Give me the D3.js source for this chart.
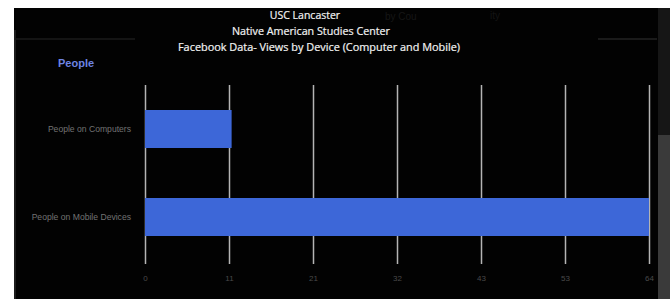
<!DOCTYPE html>
<html>
<head>
<meta charset="utf-8">
<script src="https://cdn.jsdelivr.net/npm/d3@7"></script>
<style>
  html, body { margin: 0; padding: 0; background: #fff; }
  svg { display: block; }
</style>
</head>
<body>
<div id="chart"></div>
<script>
// Data
const titleLines = ["USC Lancaster", "Native American Studies Center", "Facebook Data- Views by Device (Computer and Mobile)"];
const groupLabel = "People";
const categories = ["People on Computers", "People on Mobile Devices"];
const values = [11, 64];
const xMax = 64;
const tickCount = 6;

const W = 670, H = 299;

const svg = d3.select("#chart")
    .append("svg")
    .attr("width", W)
    .attr("height", H);

// dark video frame
svg.append("rect")
    .attr("x", 14).attr("y", 8)
    .attr("width", 644).attr("height", H - 8)
    .attr("fill", "#020202");

// left edge shade + scrollbar on the right
svg.append("rect").attr("x", 14).attr("y", 30).attr("width", 2).attr("height", H - 30).attr("fill", "#1c1c1c");
svg.append("rect").attr("x", 658).attr("y", 8).attr("width", 12).attr("height", 127).attr("fill", "#161616");
svg.append("rect").attr("x", 658).attr("y", 135).attr("width", 12).attr("height", H - 135).attr("fill", "#3a3a3a");

// faint header line behind title
svg.append("line").attr("x1", 16).attr("x2", 135).attr("y1", 39).attr("y2", 39)
    .attr("stroke", "#262626").attr("stroke-width", 1);
svg.append("line").attr("x1", 598).attr("x2", 657).attr("y1", 39).attr("y2", 39)
    .attr("stroke", "#333").attr("stroke-width", 1);

// ghost text from the underlying video
svg.append("text").attr("x", 385).attr("y", 20).attr("font-family", "Liberation Sans, Arial, sans-serif")
    .attr("font-size", 10).attr("fill", "#161616").text("by Cou");
svg.append("text").attr("x", 490).attr("y", 19).attr("font-family", "Liberation Sans, Arial, sans-serif")
    .attr("font-size", 10).attr("fill", "#141414").text("ity");

// Title
const titleX = [305, 311, 319];
const titleW = [70, 158, 282];
svg.append("g")
    .selectAll("text")
    .data(titleLines)
    .join("text")
    .attr("x", (d, i) => titleX[i])
    .attr("y", (d, i) => 15 + i * 16)
    .attr("dy", "0.35em")
    .attr("text-anchor", "middle")
    .attr("font-family", "Open Sans, Noto Sans, sans-serif")
    .attr("font-size", 10.5)
    .attr("fill", "#f2f2f2")
    .attr("stroke", "#f2f2f2")
    .attr("stroke-width", 0.2)
    .text(d => d)
    .each(function(d, i) {
        const len = this.getComputedTextLength();
        if (Math.abs(len - titleW[i]) > 2) {
            d3.select(this).attr("textLength", titleW[i]).attr("lengthAdjust", "spacingAndGlyphs");
        }
    });

// group label
svg.append("text")
    .attr("x", 58).attr("y", 63)
    .attr("dy", "0.35em")
    .attr("font-family", "Liberation Sans, Arial, sans-serif")
    .attr("font-weight", "bold")
    .attr("font-size", 11)
    .attr("fill", "#6d84e4")
    .text(groupLabel);

// Scales
const x = d3.scaleLinear()
    .domain([0, xMax])
    .range([145, 649]);

const y = d3.scaleBand()
    .domain(categories)
    .range([85, 261])
    .paddingInner(0.568)
    .paddingOuter(0.284);

const gridTop = 85, gridBottom = 264;

// X axis with gridlines
const tickVals = d3.range(tickCount + 1).map(i => xMax * i / tickCount);
const xAxis = svg.append("g")
    .attr("transform", `translate(0,${gridBottom})`)
    .call(d3.axisBottom(x)
        .tickValues(tickVals)
        .tickFormat(d3.format(".0f"))
        .tickSize(-(gridBottom - gridTop))
        .tickPadding(11));
xAxis.select(".domain").remove();
xAxis.selectAll(".tick line")
    .attr("stroke", "#b4b4b4")
    .attr("stroke-width", 1.5);
xAxis.selectAll(".tick text")
    .attr("fill", "#4a4a4a")
    .attr("font-family", "Liberation Sans, Arial, sans-serif")
    .attr("font-size", 8);

// Bars
svg.append("g")
    .selectAll("rect")
    .data(categories)
    .join("rect")
    .attr("x", x(0))
    .attr("y", d => y(d))
    .attr("width", (d, i) => x(values[i]) - x(0))
    .attr("height", y.bandwidth())
    .attr("fill", "#3d67d8");

// Category labels
svg.append("g")
    .selectAll("text")
    .data(categories)
    .join("text")
    .attr("x", 131)
    .attr("y", d => y(d) + y.bandwidth() / 2)
    .attr("dy", "0.35em")
    .attr("text-anchor", "end")
    .attr("font-family", "Liberation Sans, Arial, sans-serif")
    .attr("font-size", 8.6)
    .attr("fill", "#727272")
    .text(d => d);
</script>
</body>
</html>
